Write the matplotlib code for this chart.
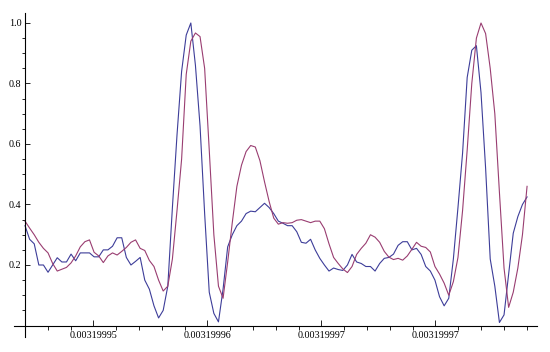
import matplotlib
matplotlib.use("Agg")
import matplotlib.pyplot as plt
import numpy as np

blue = [0.33, 0.285, 0.27, 0.20, 0.20, 0.176, 0.20, 0.224, 0.21, 0.21,
        0.236, 0.214, 0.24, 0.24, 0.24, 0.227, 0.227, 0.25, 0.25, 0.262,
        0.29, 0.29, 0.225, 0.20, 0.212, 0.225, 0.15, 0.12, 0.065, 0.025,
        0.05, 0.13, 0.39, 0.63, 0.84, 0.96, 1.0, 0.86, 0.66, 0.37,
        0.11, 0.04, 0.012, 0.12, 0.26, 0.30, 0.33, 0.345, 0.37, 0.378,
        0.376, 0.39, 0.404, 0.39, 0.37, 0.345, 0.338, 0.33, 0.33, 0.31,
        0.275, 0.272, 0.285, 0.25, 0.222, 0.20, 0.18, 0.19, 0.185, 0.182,
        0.20, 0.235, 0.21, 0.205, 0.195, 0.195, 0.18, 0.205, 0.222, 0.225,
        0.236, 0.265, 0.277, 0.277, 0.25, 0.255, 0.235, 0.195, 0.18, 0.15,
        0.095, 0.065, 0.09, 0.22, 0.39, 0.57, 0.82, 0.91, 0.925, 0.77,
        0.52, 0.22, 0.13, 0.01, 0.035, 0.17, 0.305, 0.36, 0.40, 0.425]

purple = [0.345, 0.322, 0.30, 0.275, 0.255, 0.24, 0.205, 0.18, 0.186, 0.192,
          0.207, 0.23, 0.26, 0.277, 0.283, 0.242, 0.23, 0.208, 0.23, 0.24,
          0.233, 0.245, 0.258, 0.275, 0.283, 0.255, 0.248, 0.215, 0.195, 0.15,
          0.114, 0.13, 0.22, 0.38, 0.55, 0.83, 0.94, 0.967, 0.955, 0.85,
          0.58, 0.30, 0.13, 0.09, 0.21, 0.34, 0.46, 0.53, 0.575, 0.595,
          0.59, 0.545, 0.475, 0.41, 0.355, 0.335, 0.34, 0.338, 0.34, 0.348,
          0.35, 0.345, 0.34, 0.345, 0.345, 0.32, 0.27, 0.225, 0.205, 0.187,
          0.175, 0.195, 0.235, 0.255, 0.272, 0.30, 0.292, 0.275, 0.245, 0.226,
          0.218, 0.222, 0.216, 0.23, 0.252, 0.275, 0.262, 0.258, 0.243, 0.195,
          0.17, 0.14, 0.10, 0.145, 0.225, 0.38, 0.58, 0.80, 0.95, 1.0,
          0.965, 0.85, 0.70, 0.44, 0.19, 0.06, 0.11, 0.19, 0.30, 0.46]

x = np.arange(len(blue))

xtick_pos = [14.85, 39.6, 64.35, 89.1]
xtick_labels = ["0.00319995", "0.00319996", "0.00319997", "0.00319997"]
yticks = [0.2, 0.4, 0.6, 0.8, 1.0]

fig = plt.figure(figsize=(5.5, 3.52), dpi=100)
ax = fig.add_axes([0, 0, 1, 1])

ax.plot(x, blue, color="#3d3d99", lw=0.8)
ax.plot(x, purple, color="#993d71", lw=0.8)

ax.set_xlim(-5.43, 113.98)
ax.set_ylim(-0.0876, 1.076)

# axes crossing at the origin, mathematica style
for s in ["top", "right"]:
    ax.spines[s].set_visible(False)
ax.spines["left"].set_position(("data", 0))
ax.spines["bottom"].set_position(("data", 0))
ax.spines["left"].set_bounds(-0.038, 1.033)
ax.spines["bottom"].set_bounds(-2.4, 111.2)
for s in ["left", "bottom"]:
    ax.spines[s].set_linewidth(0.8)

ax.set_xticks(xtick_pos)
ax.set_xticklabels(xtick_labels)
ax.set_xticks(np.arange(0, 110, 4.95), minor=True)
ax.set_yticks(yticks)
ax.set_yticklabels(["%.1f" % v for v in yticks])
ax.set_yticks(np.arange(0.05, 1.03, 0.05), minor=True)

ax.tick_params(direction="in", width=0.6, labelsize=7.3, colors="black")
ax.tick_params(axis="x", which="major", length=4, pad=4)
ax.tick_params(axis="x", which="minor", length=3)
ax.tick_params(axis="y", which="major", length=3.5, pad=2.5)
ax.tick_params(axis="y", which="minor", length=2)
for lab in ax.get_xticklabels() + ax.get_yticklabels():
    lab.set_family("Liberation Serif")

fig.savefig("out.png", dpi=100)
